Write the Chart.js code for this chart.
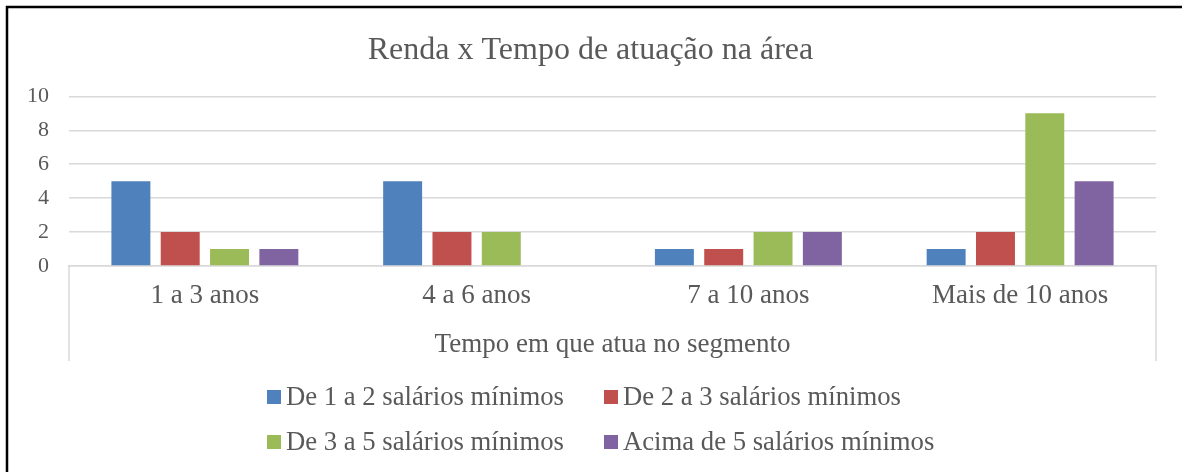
<!DOCTYPE html>
<html lang="pt-BR">
<head>
<meta charset="utf-8">
<title>Renda x Tempo de atuação na área</title>
<script src="https://cdn.jsdelivr.net/npm/chart.js@4.4.1/dist/chart.umd.min.js"></script>
<style>
    html, body { margin: 0; padding: 0; background: #ffffff; }
    #grafico { display: block; }
</style>
</head>
<body>
<canvas id="grafico" width="1182" height="472"></canvas>
<script>
// Dados do gráfico
const categorias = ['1 a 3 anos', '4 a 6 anos', '7 a 10 anos', 'Mais de 10 anos'];
const faixa1a2 = [5, 5, 1, 1];
const faixa2a3 = [2, 2, 1, 2];
const faixa3a5 = [1, 2, 2, 9];
const acima5 = [1, 0, 2, 5];
const nomesSeries = [
    'De 1 a 2 salários mínimos',
    'De 2 a 3 salários mínimos',
    'De 3 a 5 salários mínimos',
    'Acima de 5 salários mínimos'
];
const ticksY = [0, 2, 4, 6, 8, 10];

const cores = ['#4F81BD', '#C0504D', '#9BBB59', '#8064A2'];
const corTexto = '#595959';
const corGrade = '#d9d9d9';
const fonte = '"Liberation Serif", "Times New Roman", serif';

Chart.defaults.font.family = fonte;
Chart.defaults.color = corTexto;

// Moldura, linhas verticais do eixo e legenda em duas colunas (como no Excel)
const extrasExcel = {
    id: 'extrasExcel',
    afterDraw(chart) {
        const ctx = chart.ctx;
        const area = chart.chartArea;
        const eixoX = chart.scales.x;

        ctx.save();

        // linhas verticais nas pontas do eixo de categorias
        ctx.strokeStyle = corGrade;
        ctx.lineWidth = 1.5;
        ctx.beginPath();
        ctx.moveTo(area.left, area.bottom);
        ctx.lineTo(area.left, eixoX.bottom);
        ctx.moveTo(area.right, area.bottom);
        ctx.lineTo(area.right, eixoX.bottom);
        ctx.stroke();

        // moldura preta (topo e esquerda)
        ctx.strokeStyle = '#000000';
        ctx.lineWidth = 2.5;
        ctx.beginPath();
        ctx.moveTo(7, chart.height);
        ctx.lineTo(7, 7);
        ctx.lineTo(chart.width, 7);
        ctx.stroke();

        // legenda
        const colunas = [267, 604];
        const linhas = [397, 442];
        const caixa = 14;
        ctx.font = '26.7px ' + fonte;
        ctx.textBaseline = 'middle';
        ctx.textAlign = 'left';
        chart.data.datasets.forEach((ds, i) => {
            const x = colunas[i % 2];
            const y = linhas[Math.floor(i / 2)];
            ctx.fillStyle = ds.backgroundColor;
            ctx.fillRect(x, y - caixa / 2, caixa, caixa);
            ctx.fillStyle = corTexto;
            ctx.fillText(ds.label, x + caixa + 5, y + 1);
        });

        ctx.restore();
    }
};

const conjuntos = [faixa1a2, faixa2a3, faixa3a5, acima5].map((valores, i) => ({
    label: nomesSeries[i],
    data: valores,
    backgroundColor: cores[i],
    borderWidth: 0,
    categoryPercentage: 0.726,
    barPercentage: 0.79
}));

new Chart(document.getElementById('grafico'), {
    type: 'bar',
    data: {
        labels: categorias,
        datasets: conjuntos
    },
    options: {
        responsive: false,
        animation: false,
        layout: {
            padding: { left: 25, right: 26, top: 0, bottom: 111 }
        },
        plugins: {
            legend: { display: false },
            tooltip: { enabled: false },
            title: {
                display: true,
                text: 'Renda x Tempo de atuação na área',
                color: corTexto,
                font: { size: 32, weight: 'normal' },
                padding: { top: 31, bottom: 27 }
            }
        },
        scales: {
            x: {
                grid: { display: false, drawTicks: false },
                border: { display: true, color: corGrade, width: 1.5 },
                ticks: {
                    color: corTexto,
                    font: { size: 27 },
                    padding: 14
                },
                title: {
                    display: true,
                    text: 'Tempo em que atua no segmento',
                    color: corTexto,
                    font: { size: 27 },
                    padding: { top: 0, bottom: 0 }
                },
                afterFit(escala) {
                    escala.height = 95;
                }
            },
            y: {
                min: ticksY[0],
                max: ticksY[ticksY.length - 1],
                afterBuildTicks(escala) {
                    escala.ticks = ticksY.map(v => ({ value: v }));
                },
                grid: { color: corGrade, lineWidth: 1.5, drawTicks: false },
                border: { display: false },
                ticks: {
                    color: corTexto,
                    font: { size: 22 },
                    padding: 20
                },
                afterFit(escala) {
                    escala.width = 44;
                }
            }
        }
    },
    plugins: [extrasExcel]
});
</script>
</body>
</html>
